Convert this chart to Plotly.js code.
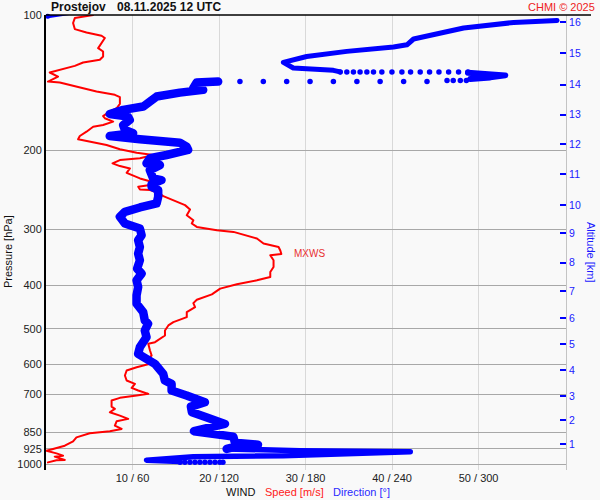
<!DOCTYPE html>
<html><head><meta charset="utf-8">
<script src="https://cdn.plot.ly/plotly-3.0.1.min.js"></script>
<style>html,body{margin:0;padding:0;background:#f9f9f9}#chart{width:600px;height:500px}
path.js-line{stroke-linejoin:round !important;stroke-linecap:round !important;}</style>
</head><body><div id="chart"></div>
<script>
// ---- Wind speed (red) ----
const speedPressure = [100,101.6,104.2,107.5,109.4,111.2,112.5,115.5,118.5,120.6,123.7,125.8,127.6,129.8,132.5,134.3,137.1,140.0,140.7,141.4,144.8,148.1,150.6,152.4,157.8,161.3,165.0,167.9,169.8,172.8,175.8,177.3,181.9,186.0,189.1,191.5,194.8,199.1,202.6,205.0,208.5,210.4,214.0,217.0,219.6,224.6,227.3,231.2,235.2,239.2,241.3,244.6,245.4,248.9,253.2,258.4,265.1,271.0,279.1,286.4,291.3,296.4,301.5,304.1,314.6,322.8,328.5,334.5,340.5,342.8,351.7,364.0,373.5,383.2,389.8,397.9,406.8,419.0,430.6,438.1,447.2,458.9,470.8,483.1,491.3,504.1,517.2,535.3,539.7,558.6,573.1,583.0,598.1,608.6,619.1,635.1,651.6,662.9,676.6,686.0,697.7,703.8,712.1,722.1,744.7,753.6,766.8,780.0,793.3,803.2,821.2,835.2,845.5,854.2,872.1,890.2,910.1,925.7,933.8,946.8,958.0,962.9,979.5,980.5,991.6];
const speedValues   = [5.45,3.33,3.13,3.33,4.68,6.42,6.80,6.42,6.03,6.60,6.60,6.22,4.29,3.33,1.59,0.43,1.39,0.43,0.23,1.59,3.91,5.84,7.96,8.54,8.54,8.16,7.18,6.60,6.80,7.76,6.60,5.45,4.68,3.91,3.71,5.06,7.0,8.54,10.48,12.40,10.86,8.54,7.69,8.54,9.70,9.32,9.90,10.86,12.21,12.02,10.66,10.86,12.02,12.98,13.56,14.72,16.07,16.65,16.27,17.03,16.85,17.43,19.75,21.67,24.38,25.14,26.88,27.08,27.2,25.92,26.30,26.30,25.92,25.92,24.38,22.06,20.13,19.17,17.43,17.03,17.23,16.27,16.27,14.72,14.14,13.75,13.75,12.60,11.82,12.02,12.21,11.82,12.02,10.48,9.32,9.12,9.32,10.28,9.90,10.66,11.82,10.48,8.54,7.58,7.58,7.96,7.38,8.54,9.50,8.16,7.96,8.74,7.38,5.06,3.52,3.13,2.17,0.81,0.05,1.21,1.97,1.01,2.17,1.21,0.23];

// ---- Wind direction (blue) ----
const dirTopP   = [98.2, 99.3, 100.6];
const dirTopDeg = [23.4, 12.0, 1.2];
const dirUpperP   = [102.8,103.9,106.9,113.1,116.5,117.8,120.5,123.7,127.5,131.2,132.8,133.9];
const dirUpperDeg = [354.4,324.3,289.6,254.9,250.3,241.0,208.6,180.8,164.6,171.5,199.3,204.0];
const dirLoopP   = [134.4,134.8,136.3,137.7,138.8];
const dirLoopDeg = [292.6,301.2,318.5,308.1,294.2];
const dotsRowAP   = [133.9,133.9,133.9,133.9,133.9,133.9,133.9,133.9,133.9,133.9,133.9,133.9,133.9,133.9,133.9,133.9];
const dotsRowADeg = [204.0,208.6,213.2,217.8,222.5,227.1,232.9,239.9,246.8,252.8,259.5,266.0,272.5,279.2,286.1,292.6];
const dotsRowBP   = [139.9,139.9,139.9,139.9,140.7,140.7,140.7,140.7,140.7,140.7,140.7,140.7,140.7];
const dotsRowBDeg = [278.1,282.4,287.3,291.5,264.2,248.0,231.7,215.6,199.3,183.1,166.9,150.7,134.5];
const dirMainP   = [140.7,141.4,145.5,146.8,148.9,151.9,155.9,159.9,162.7,166.1,168.4,171.3,175.8,180.3,183.4,186.0,189.1,192.5,196.5,199.8,205.0,208.5,214.0,215.9,221.5,231.2,233.2,238.0,241.3,245.4,254.0,262.8,268.3,274.4,281.3,291.3,298.9,309.4,317.4,328.5,339.9,351.7,367.0,376.6,389.8,403.5,421.0,439.5,458.9,478.7,486.9,504.2,521.7,549.2,568.1,583.0,598.2,629.8,651.6,662.9,686.1,703.8,728.6,745.0,767.0,788.0,814.0,845.0,862.0,869.0,896.1,905.3,914.7,925.5];
const dirMainDeg = [119.4,104.4,102.1,109.0,92.8,76.7,72.0,67.4,53.5,44.2,56.9,58.1,53.5,54.7,60.4,44.2,65.1,92.8,97.5,98.6,83.6,72.0,69.7,79.0,72.0,74.3,80.1,73.2,73.2,77.8,77.8,76.7,65.1,54.7,51.2,54.7,65.1,66.3,63.9,65.1,63.9,65.1,63.2,66.3,62.8,63.9,62.8,62.8,67.4,68.5,70.8,68.5,69.7,65.1,63.9,69.7,75.5,81.3,82.4,87.1,87.1,97.5,110.2,100.5,101.2,111.6,124.1,102.6,118.3,129.9,131.0,147.0,131.7,125.3];
const dirLowP   = [925.5,933.6,938.5,948.1,957.9,962.9,980.2,987.0];
const dirLowDeg = [125.3,176.2,252.6,210.9,164.6,102.1,69.7,93.0];
const dotsBottomP   = [990.8,990.8,990.8,990.8,990.8,990.8,990.8,990.8,990.8,990.8];
const dotsBottomDeg = [93.0,96.3,99.8,103.3,106.7,110.2,113.7,117.2,120.6,122.7];

// ---- Axes ----
const pressureTicks = [100,200,300,400,500,600,700,850,925,1000];
const speedTicks = [10,20,30,40,50];
const speedTickText = ['10 / 60','20 / 120','30 / 180','40 / 240','50 / 300'];
const altitudeKm = [1,2,3,4,5,6,7,8,9,10,11,12,13,14,15,16];
const altitudePressure = [903.8,797.8,705.6,617.2,541.1,472.7,411.6,355.9,306.1,264.8,226.1,193.9,166.8,143.0,121.5,103.9];
const mxwsPressure = 340.5;
const mxwsSpeed = 27.2;

const BLUE = '#0000ff', RED = '#ff0000';
const FONT = 'Liberation Sans, Arial, sans-serif';
const bl = (x, y, w) => ({x, y, xaxis:'x2', yaxis:'y', mode:'lines', line:{color:BLUE, width:w}, hoverinfo:'skip'});
const traces = [
  {x:dirTopDeg, y:dirTopP, xaxis:'x2', yaxis:'y', mode:'lines+markers', cliponaxis:false,
   line:{color:BLUE, width:4}, marker:{color:BLUE, size:5}, hoverinfo:'skip'},
  bl(dirUpperDeg, dirUpperP, 5),
  bl(dirLoopDeg, dirLoopP, 6),
  bl(dirMainDeg, dirMainP, 8.5),
  bl(dirLowDeg, dirLowP, 5.5),
  {x: dotsRowADeg.concat(dotsRowBDeg, dotsBottomDeg), y: dotsRowAP.concat(dotsRowBP, dotsBottomP),
   xaxis:'x2', yaxis:'y', mode:'markers', marker:{color:BLUE, size:5.5}, hoverinfo:'skip'},
  {x: speedValues, y: speedPressure, xaxis:'x', yaxis:'y', mode:'lines', line:{color:RED, width:2}, hoverinfo:'skip'},
  {x:[null], y:[null], xaxis:'x', yaxis:'y2', mode:'lines', hoverinfo:'skip'}
];

const yRange = [Math.log10(1031), 2];
const L = 46, R = 566, T = 15, B = 470;
const px = v => (v - L) / (R - L);
const py = v => (B - v) / (B - T);

const layout = {
  width:600, height:500,
  margin:{l:L, r:600-R, t:T, b:500-B, pad:0},
  paper_bgcolor:'#f9f9f9', plot_bgcolor:'#f9f9f9',
  showlegend:false,
  font:{family:FONT, size:11, color:'#222'},
  xaxis:{range:[0,60.1], tickmode:'array', tickvals:speedTicks, ticktext:speedTickText,
    showgrid:true, gridcolor:'#d9d9d9', gridwidth:1, zeroline:false, showline:false, ticks:'',
    tickfont:{size:11, color:'#222', family:FONT}},
  xaxis2:{overlaying:'x', range:[0,360.6], visible:false},
  yaxis:{type:'log', range:yRange, tickmode:'array', tickvals:pressureTicks, ticktext:pressureTicks.map(String),
    showgrid:true, gridcolor:'#a8a8a8', gridwidth:1, zeroline:false, showline:true, linecolor:'#000', linewidth:2,
    ticks:'', tickfont:{size:11, color:'#222', family:FONT}},
  yaxis2:{type:'log', overlaying:'y', side:'right', range:yRange, tickmode:'array',
    tickvals:altitudePressure, ticktext:altitudeKm.map(String),
    ticks:'inside', ticklen:6, tickwidth:2, tickcolor:BLUE, tickfont:{size:10.5, color:'#1a1aff', family:FONT},
    showgrid:false, showline:true, linecolor:'#c4c4c4', linewidth:1, zeroline:false},
  shapes:[
    {type:'line', xref:'paper', yref:'paper', x0:0, x1:px(591), y0:1, y1:1, line:{color:'#000', width:1.5}},
    {type:'line', xref:'paper', yref:'y', x0:px(44), x1:px(55), y0:Math.log10(mxwsPressure), y1:Math.log10(mxwsPressure), line:{color:RED, width:1}},
    {type:'line', xref:'paper', yref:'y', x0:px(555), x1:px(568), y0:Math.log10(mxwsPressure), y1:Math.log10(mxwsPressure), line:{color:RED, width:1}},
    {type:'line', xref:'x', yref:'y', x0:mxwsSpeed, x1:mxwsSpeed+1.0, y0:Math.log10(mxwsPressure), y1:Math.log10(mxwsPressure), line:{color:RED, width:1}}
  ],
  annotations:[
    {xref:'paper', yref:'paper', x:px(49), y:py(7), xanchor:'left', yanchor:'middle', showarrow:false,
     text:'<b>Prostejov</b>', font:{size:12, color:'#111', family:FONT}},
    {xref:'paper', yref:'paper', x:px(115), y:py(7), xanchor:'left', yanchor:'middle', showarrow:false,
     text:'<b>08.11.2025 12 UTC</b>', font:{size:12, color:'#111', family:FONT}},
    {xref:'paper', yref:'paper', x:px(597), y:py(7), xanchor:'right', yanchor:'middle', showarrow:false,
     text:'CHMI © 2025', font:{size:11, color:'#ee2222', family:FONT}},
    {xref:'paper', yref:'paper', x:px(8), y:py(252), xanchor:'center', yanchor:'middle', showarrow:false, textangle:-90,
     text:'Pressure [hPa]', font:{size:11, color:'#111', family:FONT}},
    {xref:'paper', yref:'paper', x:px(591), y:py(252), xanchor:'center', yanchor:'middle', showarrow:false, textangle:90,
     text:'Altitude [km]', font:{size:11, color:'#1a1aff', family:FONT}},
    {xref:'paper', yref:'paper', x:px(224), y:py(492), xanchor:'left', yanchor:'middle', showarrow:false,
     text:'WIND', font:{size:11, color:'#111', family:FONT}},
    {xref:'paper', yref:'paper', x:px(262.5), y:py(492), xanchor:'left', yanchor:'middle', showarrow:false,
     text:'Speed [m/s]', font:{size:11, color:'#ff2020', family:FONT}},
    {xref:'paper', yref:'paper', x:px(331), y:py(492), xanchor:'left', yanchor:'middle', showarrow:false,
     text:'Direction [°]', font:{size:11, color:'#2a2aff', family:FONT}},
    {xref:'x', yref:'y', x:mxwsSpeed+1.2, y:Math.log10(mxwsPressure), xanchor:'left', yanchor:'middle', showarrow:false,
     text:'MXWS', font:{size:10, color:'#e83030', family:FONT}}
  ]
};

Plotly.newPlot('chart', traces, layout, {displayModeBar:false, staticPlot:true});
</script>
</body></html>
